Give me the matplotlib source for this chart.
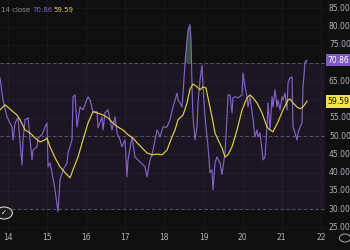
import matplotlib
matplotlib.use("Agg")
import matplotlib.pyplot as plt
import numpy as np

# ---- data (time in days of month, RSI values) ----
rsi_t = [13.795, 13.872, 13.974, 14.102, 14.128, 14.179, 14.256, 14.358, 14.384, 14.435,
         14.512, 14.563, 14.614, 14.639, 14.742, 14.767, 14.870, 14.946, 14.997, 15.023,
         15.074, 15.125, 15.202, 15.279, 15.330, 15.407, 15.509, 15.535, 15.637, 15.662,
         15.714, 15.765, 15.841, 15.918, 16.046, 16.097, 16.174, 16.276, 16.302, 16.404,
         16.430, 16.481, 16.558, 16.660, 16.737, 16.788, 16.864, 16.916, 16.992, 17.043,
         17.069, 17.171, 17.248, 17.325, 17.504, 17.555, 17.632, 17.683, 17.760, 17.811,
         17.887, 17.964, 18.066, 18.143, 18.220, 18.271, 18.322, 18.348, 18.399, 18.450,
         18.476, 18.527, 18.578, 18.604, 18.655, 18.680, 18.706, 18.731, 18.783, 18.834,
         18.859, 18.910, 18.962, 18.987, 19.038, 19.115, 19.166, 19.217, 19.243, 19.294,
         19.345, 19.422, 19.473, 19.499, 19.550, 19.601, 19.627, 19.678, 19.729, 19.754,
         19.806, 19.882, 19.985, 20.010, 20.061, 20.113, 20.138, 20.189, 20.266, 20.317,
         20.368, 20.394, 20.445, 20.496, 20.522, 20.573, 20.624, 20.650, 20.701, 20.752,
         20.777, 20.829, 20.880, 20.905, 20.957, 21.008, 21.033, 21.084, 21.136, 21.161,
         21.212, 21.263, 21.289, 21.340, 21.391, 21.417, 21.468, 21.519, 21.545, 21.596,
         21.647]
rsi_v = [66.0, 59.9, 55.3, 52.5, 49.0, 53.6, 55.0, 42.1, 49.0, 54.5,
         55.0, 49.0, 43.5, 46.2, 47.1, 49.5, 50.4, 52.5, 53.6, 41.6,
         42.7, 40.0, 35.3, 29.3, 38.0, 40.8, 42.7, 45.4, 49.0, 60.8,
         61.3, 52.5, 58.0, 57.2, 60.8, 59.9, 56.7, 56.7, 52.3, 55.3,
         51.7, 56.4, 57.2, 51.7, 55.3, 50.9, 49.0, 47.1, 49.0, 38.9,
         43.5, 49.8, 44.3, 43.5, 41.6, 38.9, 43.5, 44.9, 49.0, 51.7,
         49.8, 52.5, 52.5, 54.5, 58.0, 59.9, 61.8, 59.9, 59.1, 58.0,
         61.8, 70.1, 76.4, 79.1, 80.5, 76.4, 63.5, 55.3, 49.0, 52.5,
         59.1, 65.4, 69.5, 63.5, 55.3, 47.1, 40.0, 40.8, 35.3, 42.7,
         44.3, 42.7, 39.5, 41.6, 45.4, 55.3, 61.3, 61.3, 56.4, 60.5,
         60.8, 60.5, 61.3, 67.3, 63.5, 60.8, 58.0, 60.8, 54.5, 49.8,
         51.7, 49.8, 50.9, 46.2, 43.5, 44.3, 52.5, 59.1, 51.7, 60.8,
         58.0, 62.7, 58.0, 59.9, 57.2, 60.8, 59.9, 61.8, 57.2, 64.6,
         66.0, 66.2, 52.5, 50.9, 49.0, 50.9, 52.5, 53.6, 63.5, 70.4,
         70.86]

ma_t = [13.795, 13.923, 14.128, 14.230, 14.307, 14.435, 14.563, 14.691, 14.818, 14.946,
        14.997, 15.074, 15.202, 15.330, 15.458, 15.586, 15.662, 15.790, 15.918, 16.046,
        16.174, 16.276, 16.430, 16.558, 16.685, 16.813, 16.941, 17.069, 17.197, 17.299,
        17.427, 17.555, 17.683, 17.811, 17.939, 18.066, 18.194, 18.271, 18.348, 18.476,
        18.578, 18.655, 18.731, 18.834, 18.910, 18.987, 19.064, 19.115, 19.217, 19.294,
        19.371, 19.473, 19.550, 19.627, 19.729, 19.857, 19.985, 20.113, 20.189, 20.266,
        20.368, 20.496, 20.624, 20.701, 20.777, 20.905, 21.033, 21.161, 21.212, 21.289,
        21.391, 21.468, 21.545, 21.647]
ma_v = [57.2, 58.6, 56.7, 55.8, 54.5, 51.7, 50.9, 49.5, 48.4, 49.0,
        49.5, 47.1, 44.1, 41.6, 40.0, 38.6, 40.8, 44.3, 49.0, 53.6,
        56.7, 56.4, 55.8, 55.0, 53.6, 52.5, 51.7, 50.4, 49.5, 48.2,
        46.8, 45.4, 44.9, 45.1, 44.9, 46.2, 49.8, 51.7, 54.5, 55.8,
        59.1, 62.9, 64.3, 63.5, 62.7, 63.5, 63.2, 60.5, 55.3, 50.9,
        49.0, 46.8, 44.3, 44.9, 47.1, 51.7, 57.2, 60.5, 61.3, 60.5,
        59.1, 56.4, 52.5, 51.7, 51.2, 53.9, 57.2, 59.9, 60.2, 59.1,
        58.0, 57.5, 58.0, 59.59]

day_ticks = [14, 15, 16, 17, 18, 19, 20, 21, 22]
y_ticks = [25, 30, 35, 40, 45, 50, 55, 60, 65, 70, 75, 80, 85]
upper, middle, lower = 70, 50, 30
last_rsi, last_ma = 70.86, 59.59

BG = "#0f0f0f"
PURPLE = "#8462c8"
YELLOW = "#e3cf4a"
TXT = "#b2b5be"

fig = plt.figure(figsize=(3.5, 2.5), dpi=100, facecolor=BG)
ax = fig.add_axes([0, 0.08, 325 / 350, 0.92])
ax.set_facecolor(BG)
ax.set_xlim(13.795, 22.107)
ax.set_ylim(24.3, 87.3)

# grid
for d in day_ticks:
    ax.axvline(d, color="#1c1c1c", lw=0.6, zorder=0)
for v in y_ticks:
    ax.axhline(v, color="#1a1a1a", lw=0.6, zorder=0)

# band
ax.axhspan(lower, upper, color="#7e57c2", alpha=0.11, lw=0, zorder=1)
for lvl in (upper, middle, lower):
    ax.axhline(lvl, color="#5d606b", lw=0.6, ls=(0, (4, 3)), zorder=2)

t = np.array(rsi_t)
v = np.array(rsi_v)
ax.fill_between(t, upper, v, where=v > upper, interpolate=True,
                color="#4a7a55", alpha=0.6, lw=0, zorder=2)
ax.fill_between(t, lower, v, where=v < lower, interpolate=True,
                color="#8a3a3a", alpha=0.6, lw=0, zorder=2)

ax.plot(rsi_t, rsi_v, color=PURPLE, lw=0.85, zorder=4)
ax.plot(ma_t, ma_v, color=YELLOW, lw=0.85, zorder=5)

for s in ax.spines.values():
    s.set_visible(False)
ax.set_xticks([])
ax.set_yticks([])

# right price scale labels
for yv in y_ticks:
    if abs(yv - last_rsi) < 2 or abs(yv - last_ma) < 2:
        continue
    ax.text(1.012, (yv - 24.3) / 63.0, f"{yv:.2f}", transform=ax.transAxes,
            ha="left", va="center", color=TXT, fontsize=5.5)

for val, col, tcol in ((last_rsi, "#7e57c2", "#ffffff"), (last_ma, "#f2e14a", "#131313")):
    ax.text(1.008, (val - 24.3) / 63.0, f"{val:.2f}", transform=ax.transAxes,
            ha="left", va="center", color=tcol, fontsize=5.5,
            bbox=dict(boxstyle="square,pad=0.25", fc=col, ec="none"))

# time axis labels
for d in day_ticks:
    x_fig = (d - 13.795) / (22.107 - 13.795) * (325 / 350)
    fig.text(x_fig, 12 / 250, str(d), ha="center", va="center",
             color=TXT, fontsize=5.5)

# legend at top-left
fig.text(0.003, 0.958, "14 close", ha="left", va="center", color="#8a8d96", fontsize=5)
fig.text(32 / 350, 0.958, f"{last_rsi:.2f}", ha="left", va="center", color=PURPLE, fontsize=5)
fig.text(53 / 350, 0.958, f"{last_ma:.2f}", ha="left", va="center", color=YELLOW, fontsize=5)

# icons
logo = plt.Circle((4 / 350, 1 - 213 / 250), 0.024, transform=fig.transFigure,
                  fc="#1e1e1e", ec="#d1d4dc", lw=0.8)
fig.add_artist(logo)
fig.text(4 / 350, 1 - 213 / 250, "✓", ha="center", va="center", color="#ffffff",
         fontsize=5, fontweight="bold")
gear = plt.Circle((345 / 350, 1 - 238 / 250), 0.016, transform=fig.transFigure,
                  fc="none", ec="#9598a1", lw=0.8)
fig.add_artist(gear)

fig.savefig("out.png", dpi=100, facecolor=BG)
